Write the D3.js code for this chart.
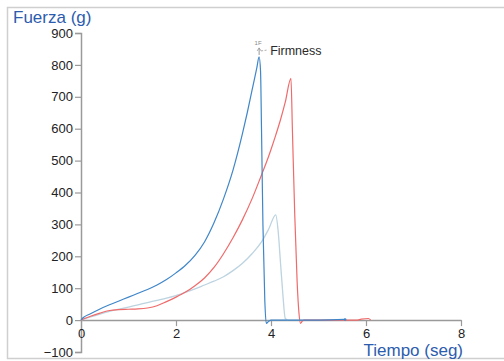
<!DOCTYPE html>
<html><head><meta charset="utf-8">
<script src="https://cdn.jsdelivr.net/npm/d3@7"></script>
<style>body{margin:0;background:#fff;} svg{display:block;font-family:"Liberation Sans",Arial,sans-serif;}</style>
</head><body>
<div id="chart"></div>
<script>
const xTicks = [0, 2, 4, 6, 8];
const yTicks = [-100, 0, 100, 200, 300, 400, 500, 600, 700, 800, 900];
const xTitle = "Tiempo (seg)";
const yTitle = "Fuerza (g)";
const annotation = "Firmness";
const annotationTag = "1F";

const blueT = [0,0.05,0.2,0.4,0.6,0.8,1.0,1.2,1.4,1.6,1.8,2.0,2.2,2.4,2.6,2.8,3.0,3.2,3.4,3.5,3.6,3.7,3.75,3.78,3.8,3.83,3.87,3.9,3.95,4.0,5.0,5.56];
const blueV = [0,8,20,35,48,60,72,84,96,110,127,148,172,203,245,305,380,470,585,650,720,790,825,780,600,300,60,-10,-4,0,0,2];

const redT = [0,0.2,0.4,0.6,0.8,1.0,1.2,1.4,1.6,1.8,2.0,2.2,2.4,2.6,2.8,3.0,3.2,3.4,3.6,3.8,3.9,4.0,4.1,4.2,4.3,4.42,4.45,4.5,4.55,4.59,4.62,4.66,4.7,5.8,5.9,6.05,6.1];
const redV = [0,12,22,30,33,34,35,38,45,58,72,88,108,132,165,208,258,315,380,455,493,535,580,628,683,758,600,330,120,20,-10,-3,0,0,3,5,0];

const grayT = [0,0.2,0.4,0.6,0.8,1.0,1.2,1.4,1.6,1.8,2.0,2.2,2.4,2.6,2.8,3.0,3.2,3.4,3.6,3.8,3.95,4.1,4.15,4.2,4.25,4.3,4.35];
const grayV = [0,10,19,27,34,41,48,55,62,69,77,87,98,110,122,136,155,178,208,245,285,330,280,180,80,5,0];

const W = 504, H = 361;
const svg = d3.select("#chart").append("svg").attr("width", W).attr("height", H);

// frame
svg.append("rect").attr("x", 7.5).attr("y", 7.5).attr("width", 500).attr("height", 351)
  .attr("fill", "none").attr("stroke", "#cfcfcf").attr("stroke-width", 1.5);

const x = d3.scaleLinear().domain([0, 8]).range([81, 461]);
const y = d3.scaleLinear().domain([-100, 900]).range([352, 33]);

const axisColor = "#9a9a9a";

// y axis
const yAxis = svg.append("g").attr("transform", `translate(${x(0)},0)`)
  .call(d3.axisLeft(y).tickValues(yTicks).tickSize(6).tickPadding(2).tickFormat(d3.format("d")));
yAxis.select(".domain").attr("stroke", axisColor).attr("stroke-width", 1.5);
yAxis.selectAll(".tick line").attr("stroke", axisColor).attr("stroke-width", 1.2);
yAxis.selectAll(".tick text").attr("fill", "#222").attr("font-size", 13).attr("font-family", "Liberation Sans, Arial, sans-serif");

// x axis at y=0
const xAxis = svg.append("g").attr("transform", `translate(0,${y(0)})`)
  .call(d3.axisBottom(x).tickValues(xTicks).tickSize(6).tickSizeOuter(0).tickPadding(3).tickFormat(d3.format("d")));
xAxis.select(".domain").attr("stroke", axisColor).attr("stroke-width", 1.5);
xAxis.selectAll(".tick line").attr("stroke", axisColor).attr("stroke-width", 1.2)
  .filter(d => d === 0).remove();
xAxis.selectAll(".tick text").attr("fill", "#222").attr("font-size", 13).attr("font-family", "Liberation Sans, Arial, sans-serif");

// titles
svg.append("text").attr("x", 13).attr("y", 23).attr("fill", "#2c5cae").attr("font-size", 17).text(yTitle);
svg.append("text").attr("x", 463).attr("y", 356).attr("text-anchor", "end").attr("fill", "#2c5cae").attr("font-size", 17).text(xTitle);

const line = d3.line().x(d => x(d[0])).y(d => y(d[1])).curve(d3.curveMonotoneX);
function drawSeries(T, V, color, w) {
  svg.append("path").datum(d3.zip(T, V)).attr("d", line)
    .attr("fill", "none").attr("stroke", color).attr("stroke-width", w).attr("stroke-linejoin", "round");
}
drawSeries(grayT, grayV, "#bcd3e0", 1.3);
drawSeries(redT, redV, "#f06a6a", 1.2);
drawSeries(blueT, blueV, "#3f86c9", 1.2);

// end dots
svg.append("circle").attr("cx", x(blueT[blueT.length-1])).attr("cy", y(blueV[blueV.length-1])).attr("r", 1.3).attr("fill", "#3f86c9");

// annotation at blue peak
const pi = blueV.indexOf(d3.max(blueV));
const px = x(blueT[pi]), py = y(blueV[pi]);
svg.append("text").attr("x", px - 1).attr("y", py - 12).attr("text-anchor", "middle").attr("font-size", 6).attr("fill", "#888").text(annotationTag);
svg.append("line").attr("x1", px).attr("x2", px).attr("y1", py - 9).attr("y2", py - 2).attr("stroke", "#999").attr("stroke-width", 1);
svg.append("path").attr("d", `M${px-2},${py-6}L${px},${py-9}L${px+2},${py-6}`).attr("fill", "none").attr("stroke", "#999").attr("stroke-width", 0.8);
svg.append("line").attr("x1", px + 2).attr("x2", px + 9).attr("y1", py - 6).attr("y2", py - 7).attr("stroke", "#999").attr("stroke-width", 0.8).attr("stroke-dasharray", "2,1.5");
svg.append("text").attr("x", px + 11).attr("y", py - 2).attr("font-size", 12.5).attr("fill", "#2a2a2a").text(annotation);
</script>
</body></html>
